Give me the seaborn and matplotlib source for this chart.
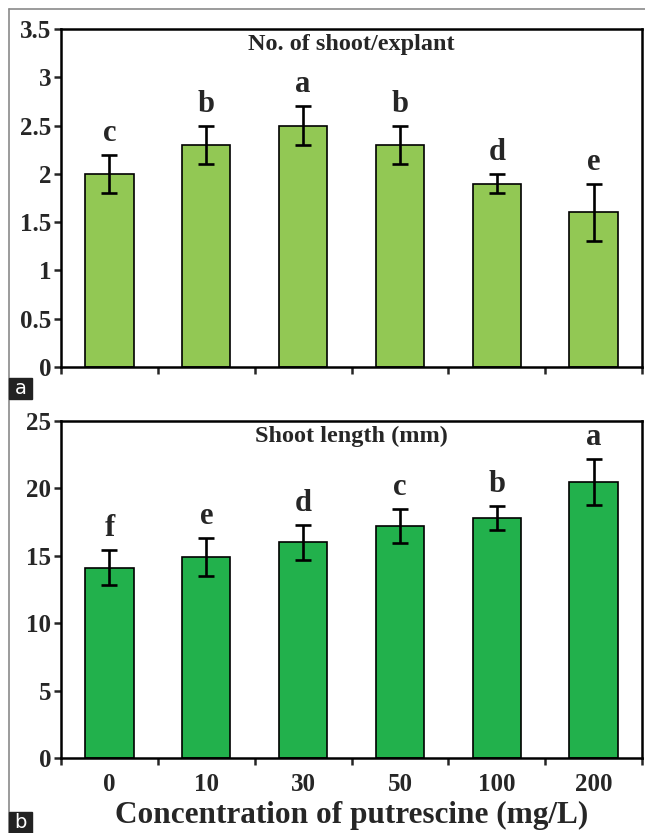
import matplotlib
matplotlib.use("Agg")
import matplotlib.pyplot as plt
import numpy as np
import pandas as pd
import seaborn as sns
from matplotlib.lines import Line2D
from matplotlib.patches import Rectangle

# data
concentrations = ['0', '10', '30', '50', '100', '200']
shoot_number = [2.0, 2.3, 2.5, 2.3, 1.9, 1.6]
shoot_number_err = [0.2, 0.2, 0.2, 0.2, 0.1, 0.3]
shoot_number_letters = ['c', 'b', 'a', 'b', 'd', 'e']
shoot_length = [14.1, 14.9, 16.0, 17.2, 17.8, 20.5]
shoot_length_err = [1.3, 1.4, 1.3, 1.25, 0.9, 1.7]
shoot_length_letters = ['f', 'e', 'd', 'c', 'b', 'a']

sns.set_style('ticks')
plt.rcParams['font.family'] = ['Liberation Serif', 'DejaVu Serif']
plt.rcParams['font.weight'] = 'bold'

fig = plt.figure(figsize=(6.45, 8.33), dpi=100)
ax_top = fig.add_axes([0.0946, 0.5594, 0.9008, 0.4058])
ax_bot = fig.add_axes([0.0946, 0.0900, 0.9008, 0.4046])


def draw_panel(ax, values, errs, letters, color, title, ymax, ystep, show_xlabels):
    df = pd.DataFrame({'conc': concentrations, 'value': values})
    sns.barplot(data=df, x='conc', y='value', ax=ax, color=color, width=0.5,
                edgecolor='black', linewidth=1.2, errorbar=None, saturation=1)
    x = np.arange(len(values))
    ax.errorbar(x, values, yerr=errs, fmt='none', ecolor='black',
                elinewidth=1.9, capsize=5.5, capthick=1.9)
    for xi, v, e, lab in zip(x, values, errs, letters):
        ax.annotate(lab, (xi, v + e), xytext=(0, 5), textcoords='offset points',
                    ha='center', va='bottom', fontsize=22, fontweight='bold')
    ax.text(0.5, 0.955, title, transform=ax.transAxes, ha='center', va='center',
            fontsize=17.5, fontweight='bold')

    ax.set_xlim(-0.5, len(values) - 0.5)
    ax.set_ylim(0, ymax)
    ax.set_yticks(np.arange(0, ymax + ystep / 2, ystep))
    ax.yaxis.set_major_formatter(plt.FuncFormatter(lambda v, p: f'{v:g}'))

    # ticks at the category boundaries, labels at the bar centres
    ax.set_xticks(np.arange(-0.5, len(values), 1.0))
    ax.set_xticklabels([])
    ax.set_xticks(x, minor=True)
    if show_xlabels:
        ax.set_xticklabels(concentrations, minor=True)
    ax.tick_params(axis='x', which='minor', length=0, pad=11, labelsize=18)
    ax.tick_params(axis='x', which='major', direction='out', length=5, width=1.8)
    ax.tick_params(axis='y', direction='out', length=5, width=1.8, pad=2, labelsize=18)
    for lab in ax.get_yticklabels() + ax.get_xticklabels(minor=True):
        lab.set_fontweight('bold')

    for s in ax.spines.values():
        s.set_visible(True)
        s.set_linewidth(1.8)
        s.set_color('black')
    ax.set_xlabel('')
    ax.set_ylabel('')


draw_panel(ax_top, shoot_number, shoot_number_err, shoot_number_letters,
           '#92c854', 'No. of shoot/explant', 3.5, 0.5, False)
draw_panel(ax_bot, shoot_length, shoot_length_err, shoot_length_letters,
           '#22b14c', 'Shoot length (mm)', 25, 5, True)
ax_bot.set_xlabel('Concentration of putrescine (mg/L)', fontsize=22.5,
                  fontweight='bold', labelpad=3)

# outer frame of the figure
W, H = 645, 833
fig.add_artist(Line2D([8.5 / W, 8.5 / W], [0, 1 - 9 / H], transform=fig.transFigure,
                      color='#8a8a8a', linewidth=1.2))
fig.add_artist(Line2D([8.5 / W, 1], [1 - 9 / H, 1 - 9 / H], transform=fig.transFigure,
                      color='#8a8a8a', linewidth=1.2))

# panel labels
for lab, y0 in [('a', 378), ('b', 812)]:
    y1 = min(y0 + 21, H)
    fig.add_artist(Rectangle((9 / W, 1 - y1 / H), 23 / W, (y1 - y0) / H,
                             transform=fig.transFigure, color='#222222', zorder=5))
    fig.text(20.5 / W, 1 - (y0 + y1) / 2 / H, lab, color='white', fontsize=14,
             ha='center', va='center', family='DejaVu Sans', fontweight='normal', zorder=6)

fig.savefig('out.png', dpi=100)
